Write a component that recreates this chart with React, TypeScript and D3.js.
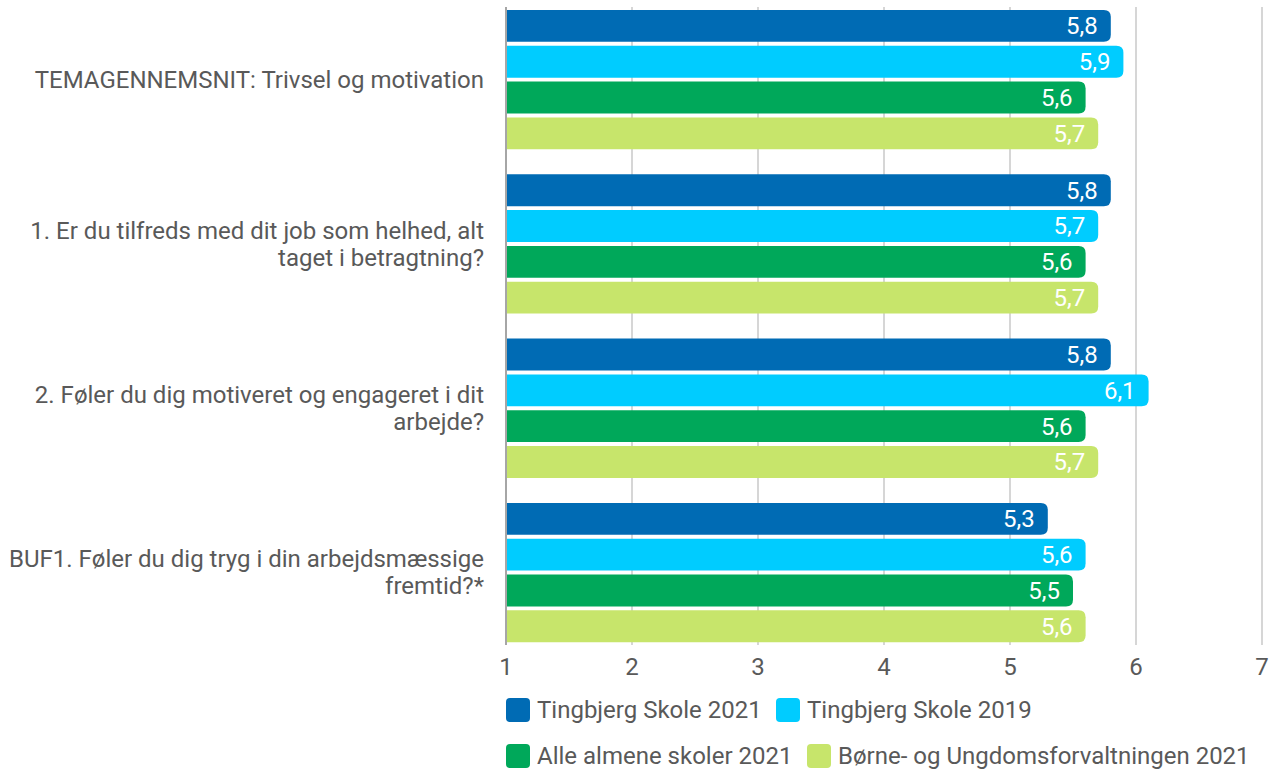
import React from "react";
import * as d3 from "d3";

const categories = [
  ["TEMAGENNEMSNIT: Trivsel og motivation"],
  ["1. Er du tilfreds med dit job som helhed, alt", "taget i betragtning?"],
  ["2. Føler du dig motiveret og engageret i dit", "arbejde?"],
  ["BUF1. Føler du dig tryg i din arbejdsmæssige", "fremtid?*"],
];
const seriesNames = [
  "Tingbjerg Skole 2021",
  "Tingbjerg Skole 2019",
  "Alle almene skoler 2021",
  "Børne- og Ungdomsforvaltningen 2021",
];
const tingbjerg2021 = [5.8, 5.8, 5.8, 5.3];
const tingbjerg2019 = [5.9, 5.7, 6.1, 5.6];
const alleAlmene2021 = [5.6, 5.6, 5.6, 5.5];
const buf2021 = [5.7, 5.7, 5.7, 5.6];
const xTicks = [1, 2, 3, 4, 5, 6, 7];

const seriesValues = [tingbjerg2021, tingbjerg2019, alleAlmene2021, buf2021];
const colors = ["#006BB4", "#00CCFF", "#00A85A", "#C7E56B"];

const W = 1276;
const H = 769;
const FONT = "Roboto, sans-serif";
const TEXT = "#595959";
const FS = 24;

function barPath(x0: number, x1: number, y: number, h: number, r: number) {
  const rr = Math.min(r, (x1 - x0) / 2, h / 2);
  return `M${x0},${y}H${x1 - rr}Q${x1},${y} ${x1},${y + rr}V${y + h - rr}Q${x1},${y + h} ${x1 - rr},${y + h}H${x0}Z`;
}

export default function App() {
  const x = d3.scaleLinear().domain([1, 7]).range([506, 1262]);
  const idx = categories.map((_, i) => String(i));
  const y = d3
    .scaleBand()
    .domain(idx)
    .range([-2.5, 654.7])
    .paddingInner(0.152)
    .paddingOuter(0.076);
  const inner = d3
    .scaleBand()
    .domain(seriesNames)
    .range([0, y.bandwidth()])
    .paddingInner(0.11)
    .paddingOuter(0);
  const gridTop = 7;
  const gridBottom = 645;
  const lineH = 27;

  const fmt = (v: number) => v.toFixed(1).replace(".", ",");

  const legendRows = [
    [0, 1],
    [2, 3],
  ];
  const legendY = [710, 756];
  const legendX = [
    [506, 776],
    [506, 807],
  ];

  return (
    <svg
      width={W}
      height={H}
      style={{ position: "absolute", left: 0, top: 0, background: "#fff" }}
      fontFamily={FONT}
    >
      {xTicks.slice(1).map((t) => (
        <line
          key={"g" + t}
          x1={x(t)}
          x2={x(t)}
          y1={gridTop}
          y2={gridBottom}
          stroke="#c8c8c8"
          strokeWidth={1.5}
        />
      ))}
      {categories.map((lines, ci) => {
        const y0 = y(String(ci))!;
        const cy = y0 + y.bandwidth() / 2;
        return (
          <g key={"c" + ci}>
            {lines.map((ln, li) => (
              <text
                key={li}
                x={484}
                y={cy + (li - (lines.length - 1) / 2) * lineH}
                dy="0.35em"
                textAnchor="end"
                fontSize={FS}
                fill={TEXT}
              >
                {ln}
              </text>
            ))}
            {seriesNames.map((s, si) => {
              const v = seriesValues[si][ci];
              const by = y0 + inner(s)!;
              const bh = inner.bandwidth();
              return (
                <g key={s}>
                  <path d={barPath(x(1) + 1, x(v), by, bh, 7)} fill={colors[si]} />
                  <text
                    x={x(v) - 13}
                    y={by + bh / 2}
                    dy="0.35em"
                    textAnchor="end"
                    fontSize={FS}
                    fill="#ffffff"
                  >
                    {fmt(v)}
                  </text>
                </g>
              );
            })}
          </g>
        );
      })}
      <line x1={x(1)} x2={x(1)} y1={gridTop} y2={gridBottom} stroke="#a6a6a6" strokeWidth={2} />
      {xTicks.map((t) => (
        <text
          key={"t" + t}
          x={x(t)}
          y={667}
          dy="0.35em"
          textAnchor="middle"
          fontSize={FS}
          fill={TEXT}
        >
          {t}
        </text>
      ))}
      {legendRows.map((row, ri) =>
        row.map((si, k) => (
          <g key={"l" + si}>
            <rect
              x={legendX[ri][k]}
              y={legendY[ri] - 12}
              width={24}
              height={24}
              rx={4}
              fill={colors[si]}
            />
            <text
              x={legendX[ri][k] + 31}
              y={legendY[ri]}
              dy="0.35em"
              fontSize={FS}
              fill={TEXT}
            >
              {seriesNames[si]}
            </text>
          </g>
        ))
      )}
    </svg>
  );
}
